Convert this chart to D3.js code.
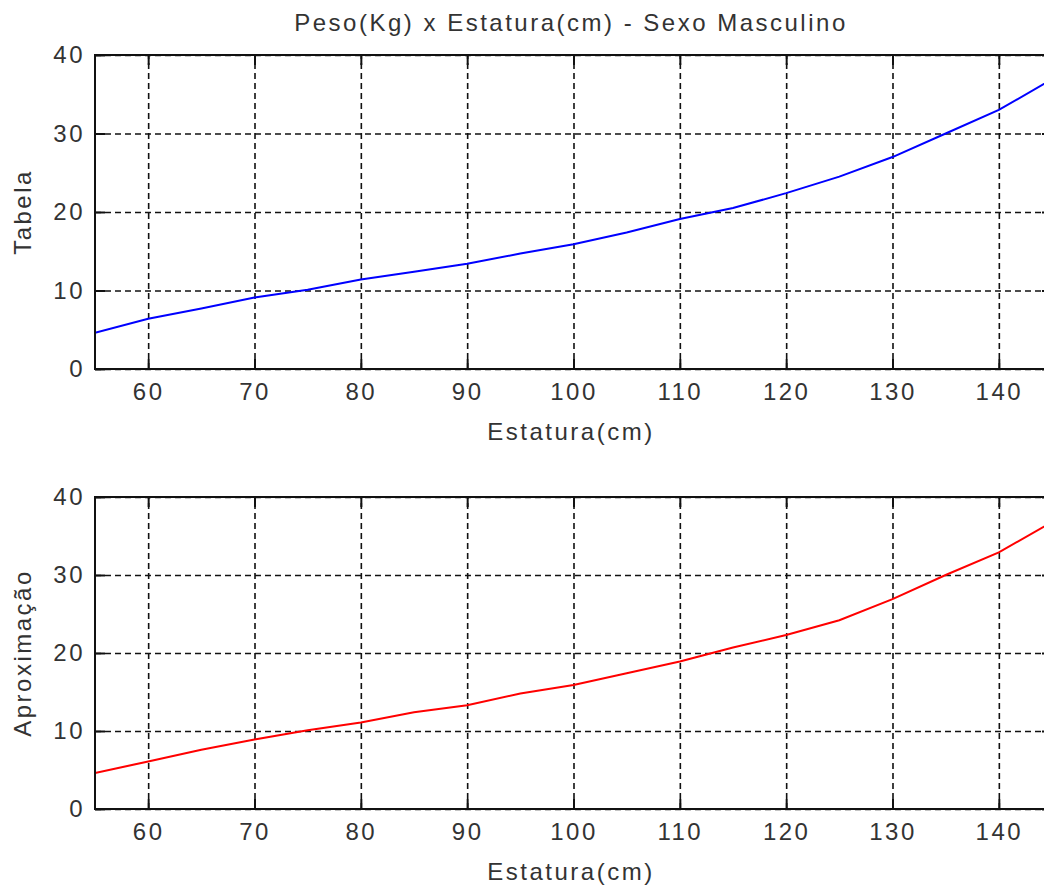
<!DOCTYPE html>
<html>
<head>
<meta charset="utf-8">
<script src="https://cdn.jsdelivr.net/npm/d3@7"></script>
<style>
  body { margin: 0; background: #fff; overflow: hidden; }
  text { font-family: 'Liberation Sans', Arial, sans-serif; font-size: 24px; letter-spacing: 2.5px; fill: #333; }
</style>
</head>
<body>
<svg id="chart"></svg>
<script>
const d3 = window.d3

// estatura (cm) and peso (kg)
const estatura = [55, 60, 65, 70, 75, 80, 85, 90, 95, 100, 105, 110, 115, 120, 125, 130, 135, 140, 145]
const pesoTabela = [4.6, 6.4, 7.7, 9.1, 10.1, 11.4, 12.4, 13.4, 14.7, 15.9, 17.4, 19.1, 20.5, 22.4, 24.5, 27.0, 30.0, 33.0, 36.9]
const pesoAprox = [4.6, 6.1, 7.6, 8.9, 10.1, 11.1, 12.4, 13.3, 14.8, 15.9, 17.4, 18.9, 20.7, 22.3, 24.2, 26.9, 30.0, 32.9, 36.8]
const xTicks = [60, 70, 80, 90, 100, 110, 120, 130, 140]
const yTicks = [0, 10, 20, 30, 40]

const svgWidth = 1044
const svgHeight = 886
const svg = d3.select('#chart').attr('width', svgWidth).attr('height', svgHeight)

function Panel (options) {
  this.id = options.id
  this.left = 95 // pixels
  this.right = 1052 // pixels, the box runs past the picture edge
  this.top = options.top
  this.bottom = options.bottom
  this.x = d3.scaleLinear().domain([55, 145]).range([this.left, this.right])
  this.y = d3.scaleLinear().domain([0, 40]).range([this.bottom, this.top])
  this.g = svg.append('g').attr('id', this.id)
}

Panel.prototype.drawGrid = function () {
  const h = this.bottom - this.top
  const w = this.right - this.left
  const gx = this.g.append('g')
    .attr('transform', `translate(0,${this.bottom})`)
    .call(d3.axisBottom(this.x).tickValues(xTicks).tickSize(-h).tickFormat(''))
  const gy = this.g.append('g')
    .attr('transform', `translate(${this.left},0)`)
    .call(d3.axisLeft(this.y).tickValues(yTicks).tickSize(-w).tickFormat(''))
  ;[gx, gy].forEach(g => {
    g.select('.domain').remove()
    g.selectAll('line')
      .attr('stroke', '#111')
      .attr('stroke-width', 1.6)
      .attr('stroke-dasharray', '6,4')
  })
}

Panel.prototype.drawAxes = function () {
  const tickLen = 10
  const bottomAxis = this.g.append('g')
    .attr('transform', `translate(0,${this.bottom})`)
    .call(d3.axisBottom(this.x).tickValues(xTicks).tickSize(-tickLen).tickPadding(14))
  const leftAxis = this.g.append('g')
    .attr('transform', `translate(${this.left},0)`)
    .call(d3.axisLeft(this.y).tickValues(yTicks).tickSize(-tickLen).tickPadding(10))
  const topAxis = this.g.append('g')
    .attr('transform', `translate(0,${this.top})`)
    .call(d3.axisTop(this.x).tickValues(xTicks).tickSize(-tickLen).tickFormat(''))
  const rightAxis = this.g.append('g')
    .attr('transform', `translate(${this.right},0)`)
    .call(d3.axisRight(this.y).tickValues(yTicks).tickSize(-tickLen).tickFormat(''))
  ;[bottomAxis, leftAxis, topAxis, rightAxis].forEach(g => {
    g.attr('font-size', null).attr('font-family', null)
    g.select('.domain').remove()
    g.selectAll('line').attr('stroke', '#111').attr('stroke-width', 2)
  })

  this.g.append('rect')
    .attr('x', this.left)
    .attr('y', this.top)
    .attr('width', this.right - this.left)
    .attr('height', this.bottom - this.top)
    .attr('fill', 'none')
    .attr('stroke', '#111')
    .attr('stroke-width', 2)
}

Panel.prototype.drawLine = function (values, color) {
  this.g.append('clipPath')
    .attr('id', `clip-${this.id}`)
    .append('rect')
    .attr('x', this.left)
    .attr('y', this.top)
    .attr('width', this.right - this.left)
    .attr('height', this.bottom - this.top)

  const line = d3.line()
    .x((d, i) => this.x(estatura[i]))
    .y(d => this.y(d))

  this.g.append('path')
    .datum(values)
    .attr('clip-path', `url(#clip-${this.id})`)
    .attr('d', line)
    .attr('fill', 'none')
    .attr('stroke', color)
    .attr('stroke-width', 2)
}

Panel.prototype.labels = function (xLabel, xLabelY, yLabel) {
  this.g.append('text')
    .attr('x', 571)
    .attr('y', xLabelY)
    .attr('text-anchor', 'middle')
    .text(xLabel)
  this.g.append('text')
    .attr('transform', `translate(31,${(this.top + this.bottom) / 2}) rotate(-90)`)
    .attr('text-anchor', 'middle')
    .text(yLabel)
}

const tabela = new Panel({id: 'tabela', top: 55, bottom: 369})
tabela.drawGrid()
tabela.drawLine(pesoTabela, '#0000ff')
tabela.drawAxes()
tabela.labels('Estatura(cm)', 440, 'Tabela')

const aprox = new Panel({id: 'aprox', top: 497, bottom: 809})
aprox.drawGrid()
aprox.drawLine(pesoAprox, '#ff0000')
aprox.drawAxes()
aprox.labels('Estatura(cm)', 880, 'Aproximação')

svg.append('text')
  .attr('x', 571)
  .attr('y', 31)
  .attr('text-anchor', 'middle')
  .text('Peso(Kg) x Estatura(cm) - Sexo Masculino')
</script>
</body>
</html>
